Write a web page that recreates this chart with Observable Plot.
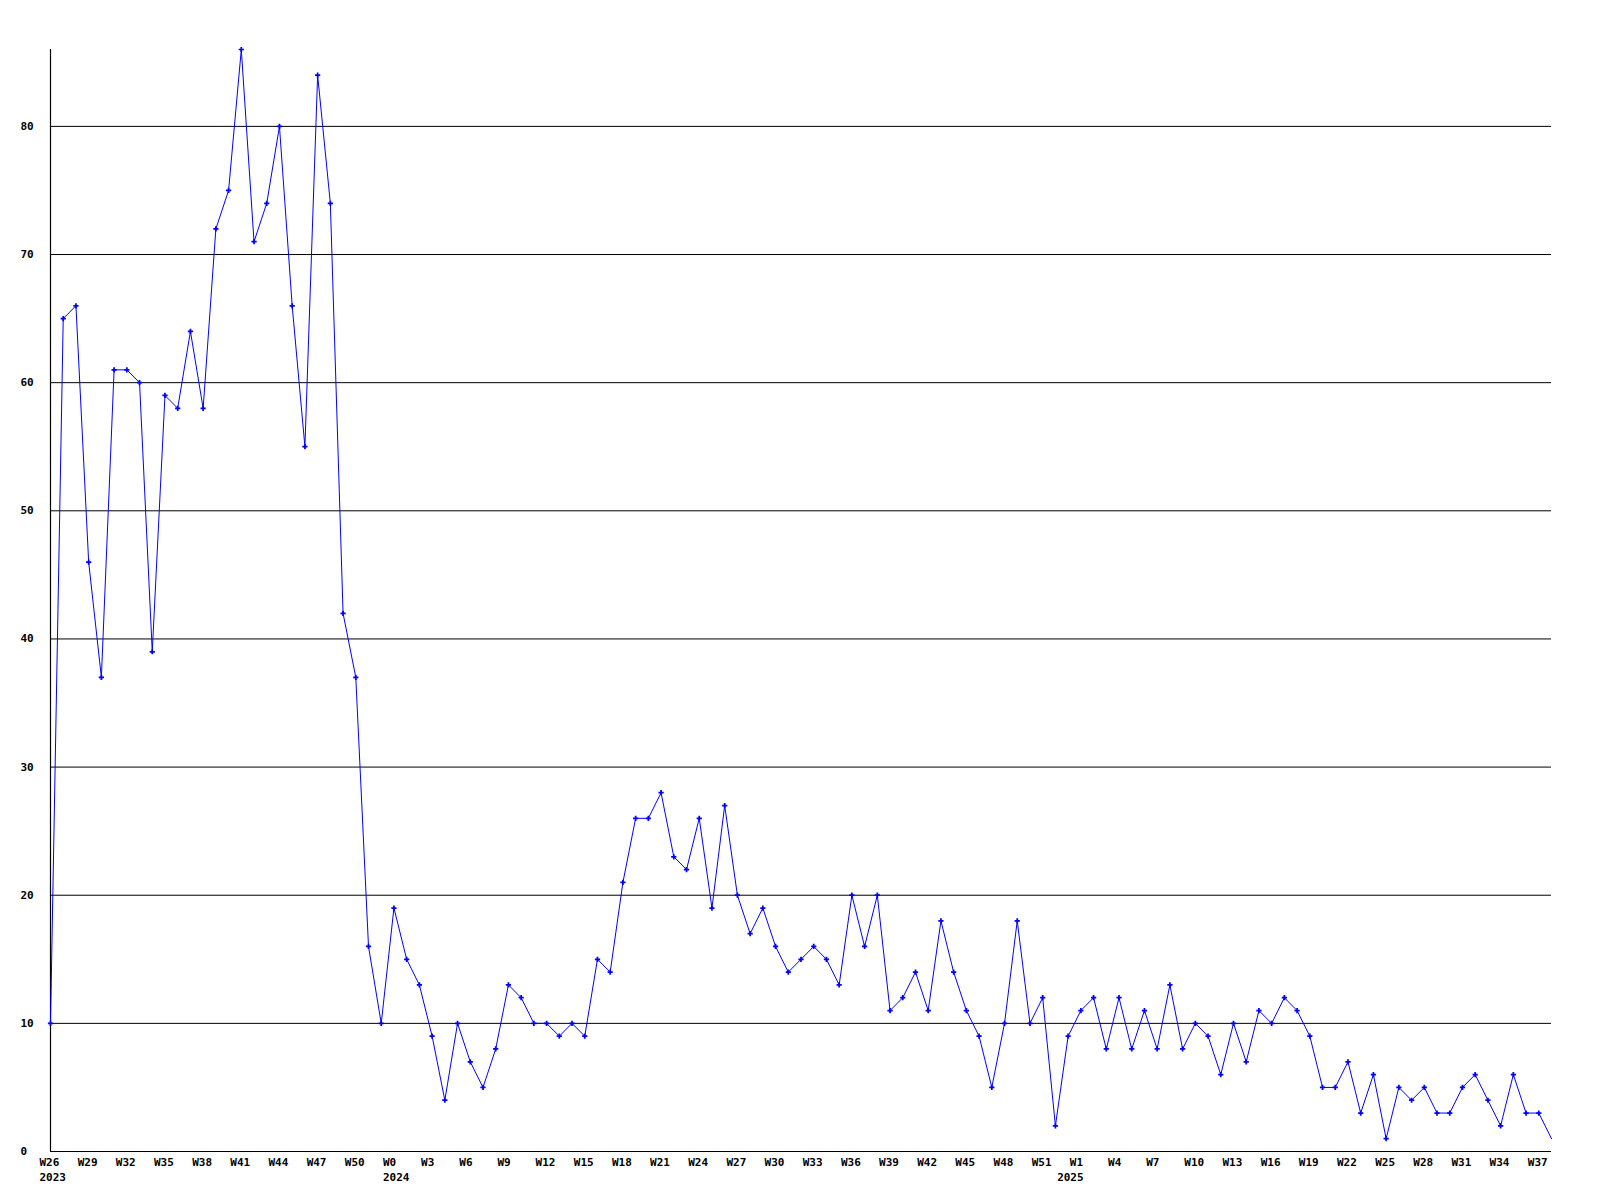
<!DOCTYPE html>
<html>
<head>
<meta charset="utf-8">
<script src="https://cdn.jsdelivr.net/npm/d3@7"></script>
<script src="https://cdn.jsdelivr.net/npm/@observablehq/plot@0.6"></script>
<style>
  html, body { margin: 0; padding: 0; background: #fff; }
</style>
</head>
<body>
<div id="chart"></div>
<script>
// Week labels per year
const weeks2023 = ["W26","W27","W28","W29","W30","W31","W32","W33","W34","W35","W36","W37","W38","W39","W40","W41","W42","W43","W44","W45","W46","W47","W48","W49","W50","W51","W52"];
const weeks2024 = ["W0","W1","W2","W3","W4","W5","W6","W7","W8","W9","W10","W11","W12","W13","W14","W15","W16","W17","W18","W19","W20","W21","W22","W23","W24","W25","W26","W27","W28","W29","W30","W31","W32","W33","W34","W35","W36","W37","W38","W39","W40","W41","W42","W43","W44","W45","W46","W47","W48","W49","W50","W51","W52"];
const weeks2025 = ["W0","W1","W2","W3","W4","W5","W6","W7","W8","W9","W10","W11","W12","W13","W14","W15","W16","W17","W18","W19","W20","W21","W22","W23","W24","W25","W26","W27","W28","W29","W30","W31","W32","W33","W34","W35","W36","W37","W38"];

// Weekly counts
const counts2023 = [10,65,66,46,37,61,61,60,39,59,58,64,58,72,75,86,71,74,80,66,55,84,74,42,37,16,10];
const counts2024 = [19,15,13,9,4,10,7,5,8,13,12,10,10,9,10,9,15,14,21,26,26,28,23,22,26,19,27,20,17,19,16,14,15,16,15,13,20,16,20,11,12,14,11,18,14,11,9,5,10,18,10,12,2];
const counts2025 = [9,11,12,8,12,8,11,8,13,8,10,9,6,10,7,11,10,12,11,9,5,5,7,3,6,1,5,4,5,3,3,5,6,4,2,6,3,3,1];

const yearNames = [2023, 2024, 2025];
const yTickValues = [0,10,20,30,40,50,60,70,80];
const gridValues = [10,20,30,40,50,60,70,80];

// Build table
const rows = [];
[[weeks2023, counts2023],[weeks2024, counts2024],[weeks2025, counts2025]].forEach(([wk, ct], y) => {
  wk.forEach((w, k) => rows.push({i: rows.length, week: w, year: yearNames[y], count: ct[k]}));
});

const n = rows.length;
const tickIdx = d3.range(0, n, 3);
// Year label at the first week of each year
const yearStarts = rows.filter((r, k) => k === 0 || rows[k - 1].year !== r.year).map(r => r.i);

const font = {fontFamily: "'DejaVu Sans Mono', monospace", fontSize: 11, fontWeight: "bold", fill: "#000"};

const plot = Plot.plot({
  width: 1600,
  height: 1200,
  marginLeft: 50,
  marginRight: 49,
  marginTop: 49,
  marginBottom: 49,
  style: {fontFamily: "'DejaVu Sans Mono', monospace", fontSize: "11px", fontWeight: "bold", background: "#fff", color: "#000"},
  x: {domain: [0, n - 1]},
  y: {domain: [0, 86]},
  marks: [
    Plot.ruleY(gridValues, {stroke: "#000", strokeWidth: 1}),
    Plot.ruleY([0], {stroke: "#000", strokeWidth: 1.2}),
    Plot.ruleX([0], {stroke: "#000", strokeWidth: 1.2}),
    Plot.axisY(yTickValues, {tickSize: 0, tickPadding: 0, textAnchor: "start", dx: -30, label: null, ...font}),
    Plot.axisX(tickIdx, {tickSize: 0, tickPadding: 7, textAnchor: "start", dx: -11, tickFormat: i => rows[i].week, label: null, ...font}),
    Plot.axisX(yearStarts, {tickSize: 0, tickPadding: 22, textAnchor: "start", dx: -11, tickFormat: i => String(rows[i].year), label: null, ...font}),
    Plot.line(rows, {x: "i", y: "count", stroke: "#0000ff", strokeWidth: 1}),
    Plot.dot(rows.slice(0, n - 1), {x: "i", y: "count", symbol: "cross", r: 2.2, fill: "#0000ff", stroke: "none"})
  ]
});
document.getElementById("chart").appendChild(plot);
</script>
</body>
</html>
